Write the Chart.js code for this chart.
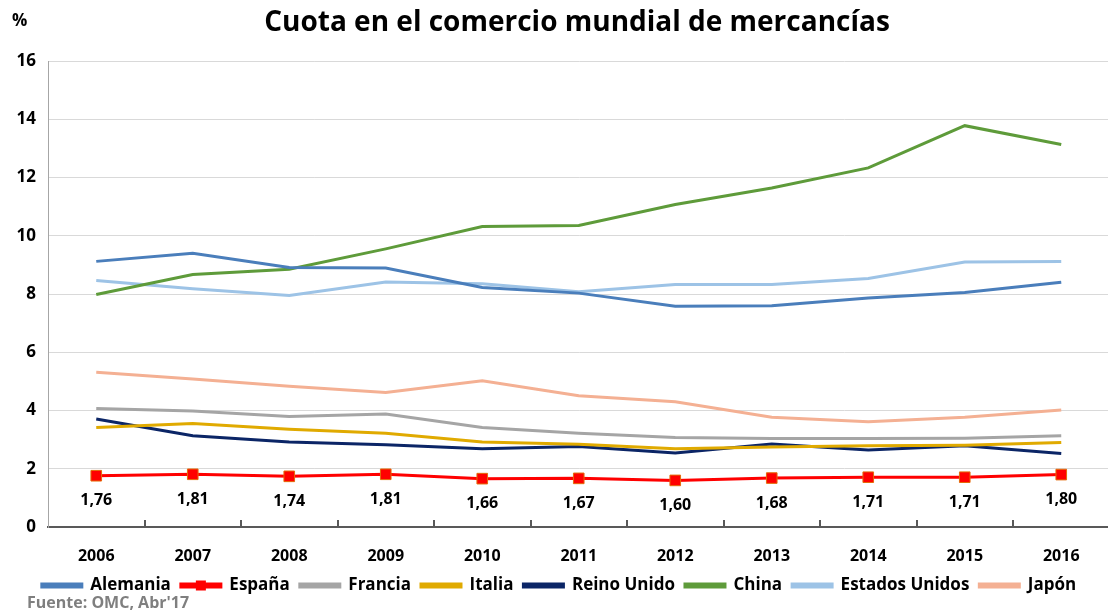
<!DOCTYPE html>
<html>
<head>
<meta charset="utf-8">
<script src="https://cdn.jsdelivr.net/npm/chart.js@4.4.1/dist/chart.umd.min.js"></script>
<style>
  html, body { margin: 0; padding: 0; background: #fff; overflow: hidden; }
  #wrap { width: 1118px; height: 611px; }
</style>
</head>
<body>
<div id="wrap"><canvas id="myChart"></canvas></div>
<script>
const years = ['2006', '2007', '2008', '2009', '2010', '2011', '2012', '2013', '2014', '2015', '2016'];
const alemania = [9.12, 9.40, 8.91, 8.89, 8.22, 8.03, 7.58, 7.60, 7.86, 8.05, 8.40];
const espana = [1.76, 1.81, 1.74, 1.81, 1.66, 1.67, 1.60, 1.68, 1.71, 1.71, 1.80];
const francia = [4.07, 3.98, 3.79, 3.88, 3.42, 3.22, 3.07, 3.04, 3.04, 3.05, 3.13];
const italia = [3.42, 3.55, 3.36, 3.22, 2.92, 2.84, 2.69, 2.75, 2.79, 2.81, 2.90];
const reinoUnido = [3.71, 3.13, 2.92, 2.82, 2.69, 2.76, 2.54, 2.85, 2.64, 2.79, 2.52];
const china = [7.98, 8.67, 8.85, 9.55, 10.32, 10.35, 11.07, 11.64, 12.33, 13.78, 13.13];
const estadosUnidos = [8.46, 8.18, 7.95, 8.41, 8.35, 8.08, 8.33, 8.33, 8.53, 9.10, 9.12];
const japon = [5.31, 5.08, 4.83, 4.62, 5.02, 4.51, 4.30, 3.77, 3.61, 3.77, 4.02];

const FONT = '"Open Sans", sans-serif';

const line = (label, data, color) => ({
  label: label,
  data: data,
  borderColor: color,
  backgroundColor: color,
  borderWidth: 3,
  pointRadius: 0,
  pointHoverRadius: 0,
  tension: 0,
});

const espanaSet = line('España', espana, '#ff0000');
espanaSet.pointRadius = 7.5;
espanaSet.pointStyle = 'rect';
espanaSet.pointBackgroundColor = '#ff0000';
espanaSet.pointBorderColor = '#e46c0a';
espanaSet.pointBorderWidth = 1;

// extra drawing: title, %, source, inner x ticks, España labels, legend marker
const extras = {
  id: 'extras',
  afterDraw(chart) {
    const ctx = chart.ctx;
    const x = chart.scales.x;
    const area = chart.chartArea;
    ctx.save();

    // inward tick marks on the x axis
    ctx.strokeStyle = '#595959';
    ctx.lineWidth = 2;
    for (let i = 1; i < years.length; i++) {
      const px = Math.round((x.getPixelForValue(i - 1) + x.getPixelForValue(i)) / 2);
      ctx.beginPath();
      ctx.moveTo(px, area.bottom);
      ctx.lineTo(px, area.bottom - 7);
      ctx.stroke();
    }

    // España data labels
    const meta = chart.getDatasetMeta(1);
    ctx.fillStyle = '#000';
    ctx.font = 'bold 16px ' + FONT;
    ctx.textAlign = 'center';
    ctx.textBaseline = 'middle';
    meta.data.forEach((pt, i) => {
      ctx.fillText(espana[i].toFixed(2).replace('.', ','), pt.x, pt.y + 25);
    });

    // square marker in the España legend entry
    const hb = chart.legend.legendHitBoxes[1];
    if (hb) {
      const cx = hb.left + 20;
      const cy = hb.top + hb.height / 2;
      ctx.fillStyle = '#ff0000';
      ctx.fillRect(cx - 5, cy - 5, 10, 10);
    }

    // title and side texts
    ctx.fillStyle = '#000';
    ctx.font = 'bold 28px ' + FONT;
    ctx.textAlign = 'center';
    ctx.fillText('Cuota en el comercio mundial de mercancías', 577, 23);
    ctx.font = 'bold 17px ' + FONT;
    ctx.textAlign = 'left';
    ctx.fillText('%', 12, 21);
    ctx.fillStyle = '#7f7f7f';
    ctx.font = 'bold 16px ' + FONT;
    ctx.fillText("Fuente: OMC, Abr'17", 27, 603);
    ctx.restore();
  }
};

new Chart(document.getElementById('myChart').getContext('2d'), {
  type: 'line',
  data: {
    labels: years,
    datasets: [
      line('Alemania', alemania, '#4a7ebb'),
      espanaSet,
      line('Francia', francia, '#a5a5a5'),
      line('Italia', italia, '#e0aa00'),
      line('Reino Unido', reinoUnido, '#0b2566'),
      line('China', china, '#5e9b3a'),
      line('Estados Unidos', estadosUnidos, '#9dc3e6'),
      line('Japón', japon, '#f4b093'),
    ],
  },
  options: {
    responsive: true,
    maintainAspectRatio: false,
    animation: false,
    layout: { padding: { top: 61, left: 0, right: 0, bottom: 7 } },
    plugins: {
      title: { display: false },
      tooltip: { enabled: false },
      legend: {
        position: 'bottom',
        labels: {
          boxWidth: 40,
          boxHeight: 3,
          padding: 10,
          color: '#000',
          font: { family: FONT, size: 17, weight: 'bold' },
        },
      },
    },
    scales: {
      x: {
        offset: true,
        grid: { display: false },
        border: { color: '#595959', width: 2 },
        ticks: {
          color: '#000',
          padding: 12,
          font: { family: FONT, size: 16, weight: 'bold' },
        },
        afterFit: (s) => { s.height = 40; },
      },
      y: {
        min: 0,
        max: 16,
        grid: { color: '#d9d9d9', drawTicks: false },
        border: { color: '#a6a6a6', width: 1 },
        ticks: {
          stepSize: 2,
          color: '#000',
          padding: 12,
          font: { family: FONT, size: 17, weight: 'bold' },
        },
        afterFit: (s) => { s.width = 48; },
      },
    },
  },
  plugins: [extras],
});
</script>
</body>
</html>
